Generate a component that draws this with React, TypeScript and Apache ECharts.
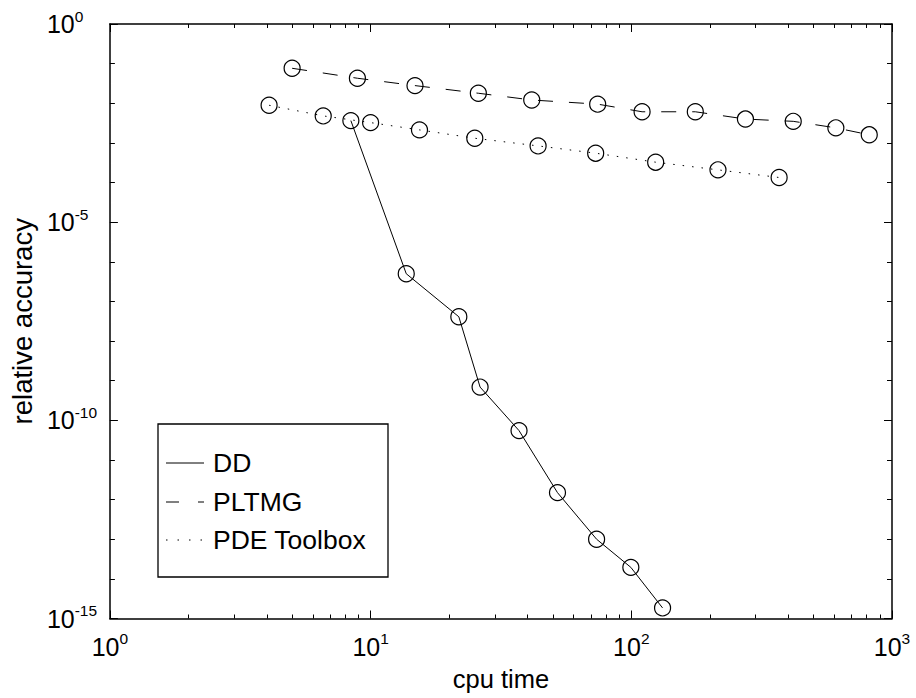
import React, { useEffect, useRef } from "react";
import * as echarts from "echarts";

// ---- data ----
const ddTime = [8.4, 13.7, 21.8, 26.3, 37.1, 52.1, 73.6, 99.6, 131.8];
const ddAcc = [3.65e-3, 5.0e-7, 4.1e-8, 6.9e-10, 5.5e-11, 1.5e-12, 1.0e-13, 1.95e-14, 1.85e-15];

const pltmgTime = [5.0, 8.9, 14.8, 25.9, 41.5, 74.3, 110, 176, 274, 418, 609, 818];
const pltmgAcc = [0.0764, 0.0428, 0.0279, 0.0179, 0.0121, 0.0095, 0.0061, 0.0061, 0.004, 0.0035, 0.0024, 0.0016];

const pdeTime = [4.08, 6.58, 10.0, 15.4, 25.1, 43.9, 73.0, 124, 215, 369];
const pdeAcc = [8.9e-3, 4.8e-3, 3.25e-3, 2.13e-3, 1.31e-3, 8.4e-4, 5.5e-4, 3.26e-4, 2.09e-4, 1.34e-4];

// ---- ticks ----
const xMajorTicks = [1, 10, 100, 1000];
const xMinorTicks = [2, 3, 4, 5, 6, 7, 8, 9, 20, 30, 40, 50, 60, 70, 80, 90, 200, 300, 400, 500, 600, 700, 800, 900];
const yMajorTicks = [1e-15, 1e-10, 1e-5, 1];
const yMinorTicks = [1e-15, 1e-14, 1e-13, 1e-12, 1e-11, 1e-10, 1e-9, 1e-8, 1e-7, 1e-6, 1e-5, 1e-4, 1e-3, 1e-2, 1e-1, 1];

const seriesNames = ["DD", "PLTMG", "PDE Toolbox"];

const FONT = "'Liberation Sans', Arial, Helvetica, sans-serif";

function expLabel(v: number): string {
  const e = Math.round(Math.log10(v));
  return `{b|10}{s|${e}}`;
}

const richStyle = {
  b: { fontSize: 25, fontFamily: FONT, color: "#000", lineHeight: 32 },
  s: { fontSize: 15.5, fontFamily: FONT, color: "#000", lineHeight: 11, verticalAlign: "top" },
};

function pairs(xs: number[], ys: number[]) {
  return xs.map((x, i) => [x, ys[i]]);
}

export default function App() {
  const ref = useRef<HTMLDivElement>(null);

  useEffect(() => {
    if (!ref.current) return;
    const chart = echarts.init(ref.current, undefined, { renderer: "svg" });

    const lineAxis = { show: true, lineStyle: { color: "#000", width: 1.5 } };

    const xBase = {
      type: "log" as const,
      logBase: 10,
      min: 1,
      max: 1000,
      splitLine: { show: false },
    };
    const yBase = {
      type: "log" as const,
      logBase: 10,
      min: 1e-15,
      max: 1,
      splitLine: { show: false },
    };

    const option: any = {
      animation: false,
      backgroundColor: "#fff",
      grid: { left: 109.5, right: 24, top: 24, bottom: 79.5, containLabel: false },
      xAxis: [
        {
          ...xBase,
          position: "bottom",
          axisLine: lineAxis,
          axisTick: { show: true, inside: true, length: 8, customValues: xMajorTicks, lineStyle: { color: "#000", width: 1 } },
          axisLabel: {
            show: true,
            customValues: xMajorTicks,
            margin: 12,
            formatter: (v: number) => expLabel(v),
            rich: richStyle,
          },
          name: "cpu time",
          nameLocation: "middle",
          nameGap: 47,
          nameTextStyle: { fontSize: 25.5, fontFamily: FONT, color: "#000" },
        },
        {
          ...xBase,
          position: "bottom",
          axisLine: { show: false },
          axisTick: { show: true, inside: true, length: 4, customValues: xMinorTicks, lineStyle: { color: "#000", width: 1 } },
          axisLabel: { show: false },
        },
        {
          ...xBase,
          position: "top",
          axisLine: lineAxis,
          axisTick: { show: true, inside: true, length: 8, customValues: xMajorTicks, lineStyle: { color: "#000", width: 1 } },
          axisLabel: { show: false },
        },
        {
          ...xBase,
          position: "top",
          axisLine: { show: false },
          axisTick: { show: true, inside: true, length: 4, customValues: xMinorTicks, lineStyle: { color: "#000", width: 1 } },
          axisLabel: { show: false },
        },
      ],
      yAxis: [
        {
          ...yBase,
          position: "left",
          axisLine: lineAxis,
          axisTick: { show: true, inside: true, length: 8, customValues: yMajorTicks, lineStyle: { color: "#000", width: 1 } },
          axisLabel: {
            show: true,
            customValues: yMajorTicks,
            margin: 63,
            align: "left",
            formatter: (v: number) => expLabel(v),
            rich: richStyle,
          },
          name: "relative accuracy",
          nameLocation: "middle",
          nameGap: 71,
          nameTextStyle: { fontSize: 27.5, fontFamily: FONT, color: "#000" },
        },
        {
          ...yBase,
          position: "left",
          axisLine: { show: false },
          axisTick: { show: true, inside: true, length: 5, customValues: yMinorTicks, lineStyle: { color: "#000", width: 1 } },
          axisLabel: { show: false },
        },
        {
          ...yBase,
          position: "right",
          axisLine: lineAxis,
          axisTick: { show: true, inside: true, length: 8, customValues: yMajorTicks, lineStyle: { color: "#000", width: 1 } },
          axisLabel: { show: false },
        },
        {
          ...yBase,
          position: "right",
          axisLine: { show: false },
          axisTick: { show: true, inside: true, length: 5, customValues: yMinorTicks, lineStyle: { color: "#000", width: 1 } },
          axisLabel: { show: false },
        },
      ],
      series: [
        {
          name: seriesNames[0],
          type: "line",
          data: pairs(ddTime, ddAcc),
          symbol: "circle",
          symbolSize: 16,
          lineStyle: { color: "#000", width: 1, type: "solid" },
          itemStyle: { color: "transparent", borderColor: "#000", borderWidth: 1.2 },
          emphasis: { disabled: true },
        },
        {
          name: seriesNames[1],
          type: "line",
          data: pairs(pltmgTime, pltmgAcc),
          symbol: "circle",
          symbolSize: 16,
          lineStyle: { color: "#000", width: 1, type: [15, 16] },
          itemStyle: { color: "transparent", borderColor: "#000", borderWidth: 1.2 },
          emphasis: { disabled: true },
        },
        {
          name: seriesNames[2],
          type: "line",
          data: pairs(pdeTime, pdeAcc),
          symbol: "circle",
          symbolSize: 16,
          lineStyle: { color: "#000", width: 1, type: [1.5, 8] },
          itemStyle: { color: "transparent", borderColor: "#000", borderWidth: 1.2 },
          emphasis: { disabled: true },
        },
      ],
      graphic: [
        {
          type: "group",
          z: 100,
          children: [
            {
              type: "rect",
              shape: { x: 158, y: 424, width: 230, height: 153 },
              style: { fill: "#fff", stroke: "#000", lineWidth: 1.3 },
            },
            {
              type: "line",
              shape: { x1: 166, y1: 463, x2: 204, y2: 463 },
              style: { stroke: "#000", lineWidth: 1 },
            },
            {
              type: "line",
              shape: { x1: 166, y1: 502, x2: 204, y2: 502 },
              style: { stroke: "#000", lineWidth: 1, lineDash: [13, 19] },
            },
            {
              type: "line",
              shape: { x1: 166, y1: 540, x2: 204, y2: 540 },
              style: { stroke: "#000", lineWidth: 1, lineDash: [1.5, 10] },
            },
            {
              type: "text",
              x: 213,
              y: 463,
              style: { text: seriesNames[0], fontSize: 26.5, fontFamily: FONT, fill: "#000", verticalAlign: "middle" },
            },
            {
              type: "text",
              x: 213,
              y: 502,
              style: { text: seriesNames[1], fontSize: 26.5, fontFamily: FONT, fill: "#000", verticalAlign: "middle" },
            },
            {
              type: "text",
              x: 213,
              y: 540,
              style: { text: seriesNames[2], fontSize: 26.5, fontFamily: FONT, fill: "#000", verticalAlign: "middle" },
            },
          ],
        },
      ],
    };

    chart.setOption(option);
    return () => chart.dispose();
  }, []);

  return (
    <div
      ref={ref}
      style={{ position: "fixed", left: 0, top: 0, width: 916, height: 698, background: "#fff" }}
    />
  );
}
